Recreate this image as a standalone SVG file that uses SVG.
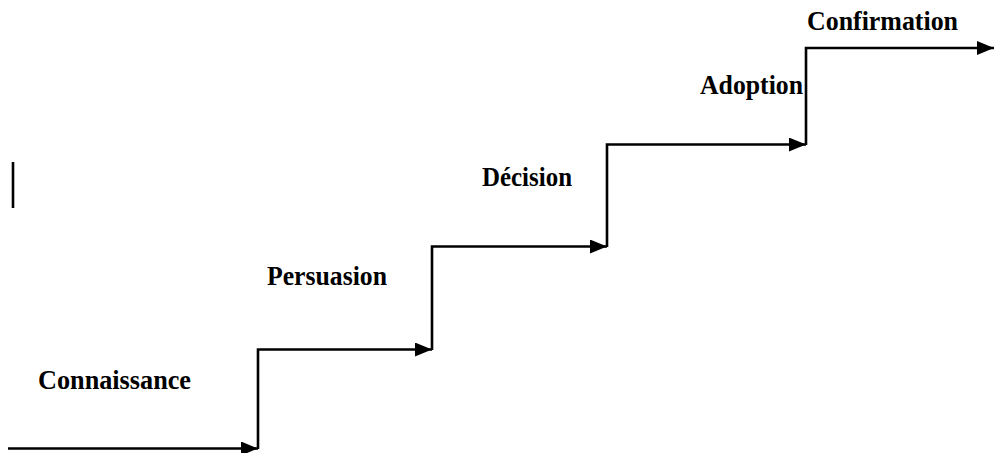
<svg xmlns="http://www.w3.org/2000/svg" width="994" height="453" viewBox="0 0 994 453">
<style>
.lbl{font-family:"Liberation Serif","Times New Roman",serif;font-weight:bold;font-size:27px;fill:#000}
.ln{stroke:#000;stroke-width:2.6;fill:none}
</style>
<defs>
<marker id="ah" markerUnits="userSpaceOnUse" markerWidth="18" markerHeight="14" refX="17" refY="7" orient="auto">
<path d="M0,0 L17,7 L0,14 Z" fill="#000"/>
</marker>
</defs>
<rect width="994" height="453" fill="#fff"/>
<g id="connectors">
<line class="ln" x1="8" y1="448.5" x2="258" y2="448.5" marker-end="url(#ah)"/>
<polyline class="ln" points="258,449 258,349.5 432,349.5" marker-end="url(#ah)"/>
<polyline class="ln" points="432,350 432,246.5 607,246.5" marker-end="url(#ah)"/>
<polyline class="ln" points="607,247 607,144.5 806,144.5" marker-end="url(#ah)"/>
<polyline class="ln" points="806,145 806,48 994,48" marker-end="url(#ah)"/>
<line class="ln" x1="13" y1="162" x2="13" y2="208"/>
</g>
<g id="connaissance"><text class="lbl" x="38" y="389" textLength="153" lengthAdjust="spacingAndGlyphs">Connaissance</text></g>
<g id="persuasion"><text class="lbl" x="267" y="285" textLength="120" lengthAdjust="spacingAndGlyphs">Persuasion</text></g>
<g id="decision"><text class="lbl" x="482" y="186" textLength="90" lengthAdjust="spacingAndGlyphs">Décision</text></g>
<g id="adoption"><text class="lbl" x="700" y="94" textLength="103" lengthAdjust="spacingAndGlyphs">Adoption</text></g>
<g id="confirmation"><text class="lbl" x="807" y="30" textLength="151" lengthAdjust="spacingAndGlyphs">Confirmation</text></g>
</svg>
